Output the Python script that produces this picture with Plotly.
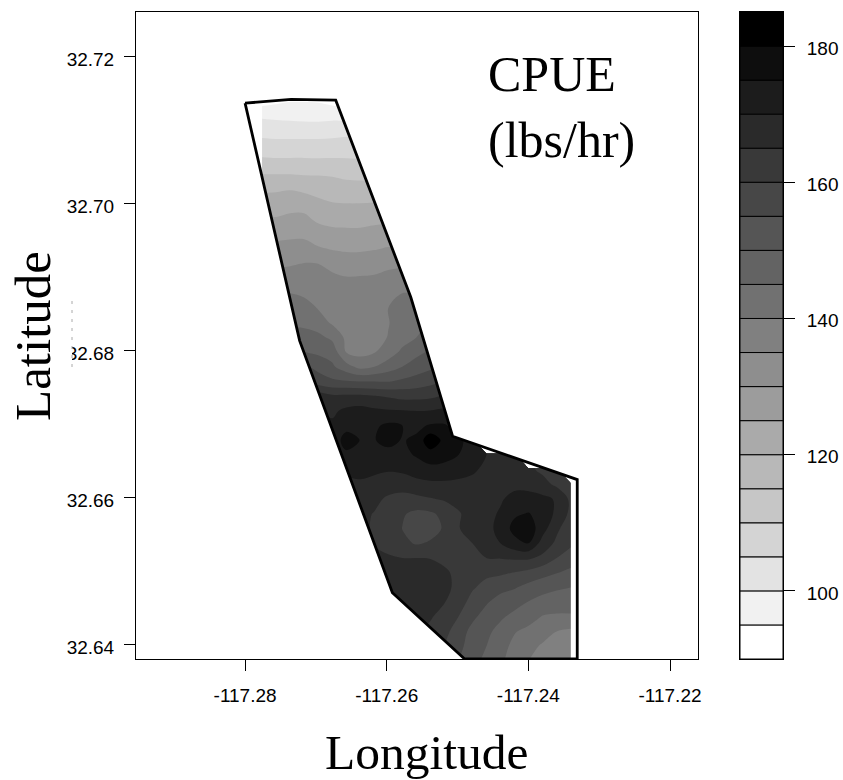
import plotly.graph_objects as go

# Grid of the surface
lon0, lon_step, n_lon = -117.2776, 0.00198, 23
lat0, lat_step = 32.71374, -0.002
# first filled column of each row (top row first)
row_start = [0,0,0,0,0,0,0,0,0,0,1,1,1,1,2,2,2,2,3,3,3,4,4,5,5,5,6,6,7,7,7,8,8,8,9,10,11,12,13]
# CPUE (lbs/hr), top row first
cpue_rows = [
 [93.4,94.3,95.1,95.1,94.8,93.9,93],
 [99.5,99.2,98.9,98.6,98.5,98.8,99],
 [103.3,103,103,103,103,103.3,103.7,103.8],
 [107.1,106.9,106.9,106.9,106.9,107,107.3,107.5],
 [111,110.8,110.8,110.8,110.7,110.7,110.6,110.5,110.5],
 [115.5,115.4,115.4,115.1,115,114.8,114.2,114,114],
 [119.5,119.6,120,119.2,118.5,117.5,117,117,117.2],
 [122.5,122.7,123.5,123.5,121.5,120.6,120.4,120.4,120.6,120.6],
 [125.5,125.5,126.2,126.2,124.2,123.3,123.2,123.2,123.8,124],
 [128.5,128.7,129,129,127.5,126.7,126.5,126.5,127,127.8,127.3],
 [131.5,131.9,132.1,130.6,129.8,129.4,129.4,129.8,130.4,129.8],
 [134.3,134.5,135.2,135,133.7,132.6,132.6,133,133.9,134.2],
 [137.4,137.6,137.5,136.8,136,135.4,135.5,135.7,136.5,137.5,137.7],
 [140,140,139.5,138.3,137,136.2,136.2,136.5,138,140,139.8],
 [142,141.2,139.8,137.9,136.8,136.8,137.2,140,141.8,142.5],
 [144,143.8,142.6,139.3,137.5,137.5,138.3,139.8,142,143.5,145.5],
 [148,147,146.2,144,139,138.3,138.3,140.2,143,145,147],
 [151,150,149,148,139.8,138.5,139.7,142.5,146,148.5,150.8],
 [156,153.5,150.8,147,143.5,145,147.5,150,152.5,154,155.5],
 [160,157.5,156,155.5,155,155,154.8,156,157,158.5,160],
 [170,168,166,166,166,165.3,164.5,163.5,163.5,164,165.5],
 [170,169,171.2,172,171,170.5,170.3,170,170.2,171,171],
 [171,171,173.5,174,174.2,176,175,173.8,175.5,175.5,173],
 [172,177,174.9,174.7,177,174.6,176,184,178.5,175.5,174],
 [170,174,174.4,172.8,172.8,173.5,175.5,177.5,176.5,175,172.5,170,168,167.5],
 [169,171.5,171.3,171,170.5,170.8,172,173.5,173.5,172.5,171,168.5,167.5,167,166,164,162.5],
 [168,169.3,168.3,167,167.5,168.5,168.8,168.8,168.5,168,167.3,168,168.8,168.3,166.8,164,162],
 [167.5,167,166,164.3,163,163.6,164.6,165.5,166.5,167.5,168.5,169.5,171.5,172,171.3,169.5,164],
 [166,164.8,163.2,160.5,158.8,159.2,161.3,164.5,167,168.7,170.5,174.3,175.3,173,169,163.8],
 [166,164.5,163,159.9,157.7,158.2,160.5,164.8,166.5,168,172,176.5,178,172,166,162],
 [165.8,164.7,163.5,161.3,159.5,160.5,162,164,165,167,170,173.5,175,168,164,161],
 [166,165.5,165,165,164.8,163.5,163,163.8,165,165.2,165.7,165.7,163.8,160,157.5],
 [168,167.5,168,168,167.5,166,163.5,162.3,161,160.8,159.8,158.6,156.7,155.2,153.8],
 [168,168.5,168.8,168.8,168.3,166.7,163.3,160.5,158.5,156.5,155.4,153.3,152,150.8,150],
 [169,168.7,168.5,167.5,165.2,162,158.5,155.5,153,151.7,149.8,148,147,147],
 [168,167,165.5,163,160,156,153,150.7,148.7,147,144.7,144.4,144.4],
 [165.5,163.8,161.5,157.5,153.5,151,148.5,145.3,143.7,142,140,139],
 [162,160,156.5,152.5,150,146.7,143.8,141.5,139.4,138,137],
 [159,155,151.5,148.8,145.8,143,140,138,136.5,136],
]
# Fishing-area outline
area_lon = [-117.28,-117.2735,-117.2672,-117.2566,-117.2507,-117.2331,-117.2331,-117.249,-117.2592,-117.2723,-117.28]
area_lat = [32.7136,32.7141,32.7140,32.6872,32.6683,32.6624,32.6380,32.6380,32.6470,32.6813,32.7136]
# Axis ranges and ticks
lon_range = [-117.2954, -117.21605]
lat_range = [32.6380, 32.72599]
lon_ticks = [-117.28,-117.26,-117.24,-117.22]
lon_labels = ["-117.28","-117.26","-117.24","-117.22"]
lat_ticks = [32.64,32.66,32.68,32.70,32.72]
lat_labels = ["32.64","32.66","32.68","32.70","32.72"]
# Colour key
key_levels = list(range(90,185,5))
key_ticks = [100,120,140,160,180]
grey_top = 255

lons = [lon0 + i*lon_step for i in range(n_lon)]
lats = [lat0 + j*lat_step for j in range(len(cpue_rows))]
z = []
for s, r in zip(row_start, cpue_rows):
    z.append([None]*s + r + [None]*(n_lon-s-len(r)))

W, H = 843, 780
xd = [136/W, 698/W]
yd = [(H-659)/H, (H-12)/H]
AX = dict(showgrid=False, zeroline=False, showline=True, linecolor="black", linewidth=1, automargin=False,
          ticks="outside", ticklen=11, tickcolor="black", tickwidth=1,
          tickfont=dict(family="Liberation Sans", size=19, color="black"))

fig = go.Figure()
fig.add_trace(go.Contour(x=lons, y=lats[::-1], z=z[::-1], autocontour=False,
    contours=dict(start=95, end=180, size=5, coloring="fill", showlines=False),
    colorscale=[[0,"rgb(255,255,255)"],[1,"rgb(0,0,0)"]], showscale=False,
    line=dict(width=0), connectgaps=False, xaxis="x", yaxis="y", name="CPUE"))
# white outside the outline: outer box joined to the outline by a slit (opposite winding)
mx = [lon_range[0],lon_range[1],lon_range[1],lon_range[0],lon_range[0]] + area_lon[::-1] + [lon_range[0]]
my = [lat_range[1],lat_range[1],lat_range[0],lat_range[0],lat_range[1]] + area_lat[::-1] + [lat_range[1]]
fig.add_trace(go.Scatter(x=mx, y=my, mode="lines", fill="toself", fillcolor="white",
    line=dict(width=0, color="white"), hoverinfo="skip", showlegend=False, xaxis="x", yaxis="y"))
fig.add_trace(go.Scatter(x=area_lon, y=area_lat, mode="lines", line=dict(color="black", width=2.8),
    showlegend=False, hoverinfo="skip", xaxis="x", yaxis="y"))

n = len(key_levels)
greys = [round(grey_top*(1-i/(n-1))) for i in range(n)]
fig.add_trace(go.Bar(x=[0]*n, y=[5]*n, base=key_levels, width=1,
    marker=dict(color=[f"rgb({g},{g},{g})" for g in greys], line=dict(color="black", width=1)),
    showlegend=False, xaxis="x2", yaxis="y2"))

fig.update_layout(width=W, height=H, autosize=False, margin=dict(l=0,r=0,t=0,b=0),
    paper_bgcolor="white", plot_bgcolor="white", barmode="overlay", showlegend=False,
    xaxis=dict(AX, domain=xd, range=lon_range, tickvals=lon_ticks, ticktext=lon_labels, mirror=True, ticklabelstandoff=8),
    yaxis=dict(AX, domain=yd, range=lat_range, tickvals=lat_ticks, ticktext=lat_labels, mirror=True, ticklabelstandoff=6, ticklabelshift=3),
    xaxis2=dict(domain=[740/W,783/W], range=[-0.5,0.5], showticklabels=False, ticks="", showgrid=False, zeroline=False, automargin=False,
                showline=True, linecolor="black", mirror=True, anchor="y2"),
    yaxis2=dict(AX, domain=yd, range=[90,185], side="right", tickvals=key_ticks, anchor="x2", mirror=True, ticklabelstandoff=8, ticklabelshift=2),
    annotations=[
      dict(text="CPUE", x=486/W, y=(H-74)/H, xref="paper", yref="paper", xanchor="left", yanchor="middle", showarrow=False,
           font=dict(family="Liberation Serif", size=50, color="black")),
      dict(text="(lbs/hr)", x=486/W, y=(H-140)/H, xref="paper", yref="paper", xanchor="left", yanchor="middle", showarrow=False,
           font=dict(family="Liberation Serif", size=50, color="black")),
      dict(text="Longitude", x=426.5/W, y=(H-752)/H, xref="paper", yref="paper", xanchor="center", yanchor="middle", showarrow=False,
           font=dict(family="Liberation Serif", size=49.5, color="black")),
      dict(text="Latitude", x=33/W, y=(H-336)/H, xref="paper", yref="paper", xanchor="center", yanchor="middle", showarrow=False, textangle=-90,
           font=dict(family="Liberation Serif", size=51, color="black")),
    ],
    shapes=[
      dict(type="rect", xref="paper", yref="paper", x0=60/W, x1=72/W, y0=(H-368)/H, y1=(H-335)/H, fillcolor="white", line=dict(width=0), layer="above"),
      dict(type="line", xref="paper", yref="paper", x0=72/W, x1=72/W, y0=(H-367)/H, y1=(H-300)/H, line=dict(color="#aaaaaa", width=1, dash="3px,6px"), layer="above"),
    ])
fig.write_html("out.html", config={"displayModeBar": False},
               post_script="document.body.style.margin='0';document.documentElement.style.overflow='hidden';")
